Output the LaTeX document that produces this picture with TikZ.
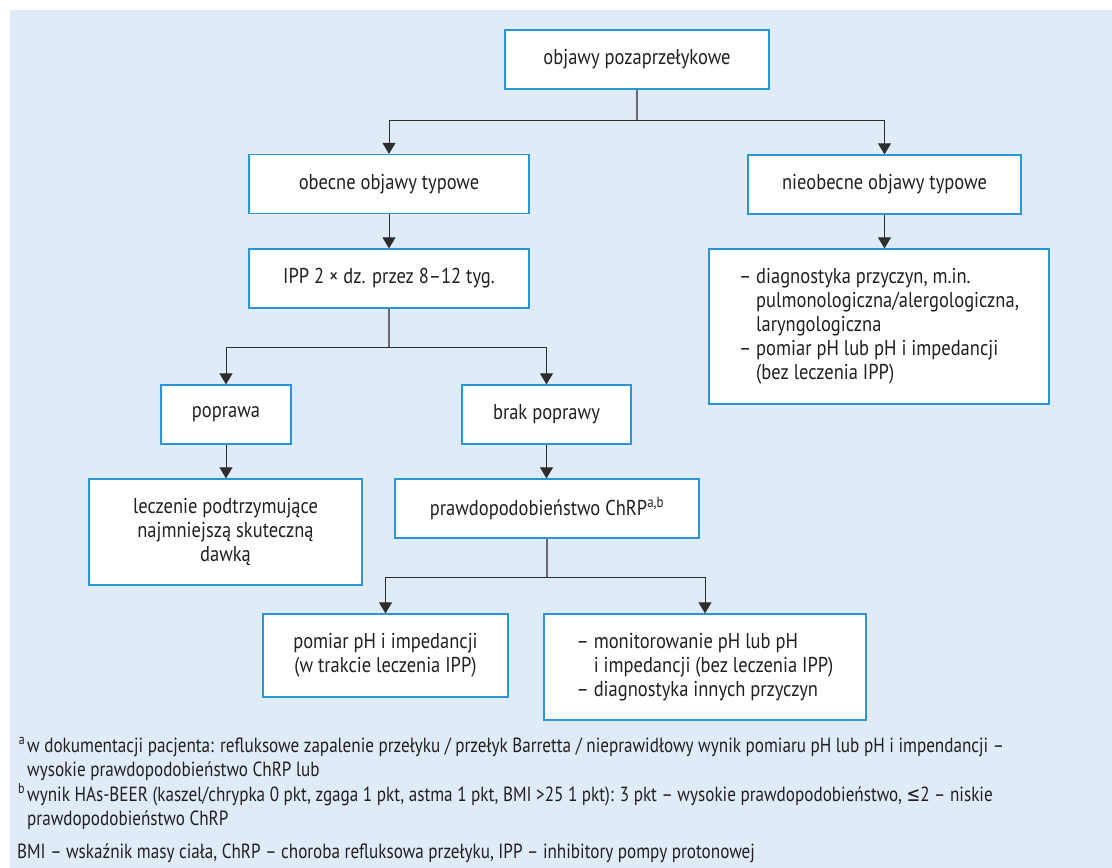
\documentclass[tikz,border=0pt]{standalone}
\usepackage{fontspec}
\setmainfont{PT Sans}[FakeStretch=0.86]
\newfontfamily\notefont{PT Sans}[FakeStretch=0.835]
\newfontfamily\symfont{DejaVu Sans}[FakeStretch=0.8]
\usetikzlibrary{arrows.meta}
\definecolor{bg}{RGB}{223,235,247}
\definecolor{boxblue}{RGB}{40,150,216}
\definecolor{txt}{RGB}{35,31,32}
\definecolor{conn}{RGB}{45,45,45}
\definecolor{stemc}{RGB}{105,105,110}
\begin{document}
\begin{tikzpicture}[x=1pt,y=-1pt,
  box/.style={draw=boxblue,fill=white,line width=1.3pt,inner sep=0pt,align=center,text=txt,font=\fontsize{21.5}{24}\selectfont},
  listbox/.style={box,align=left},
  link/.style={draw=conn,line width=1pt},
  stem/.style={draw=stemc,line width=1.4pt},
  arr/.style={link,-{Triangle[width=13pt,length=11pt]}},
  note/.style={anchor=base west,inner sep=0pt,text=txt,font=\notefont\fontsize{20.5}{24}\selectfont}]
\useasboundingbox (0,0) rectangle (1112,868);
\fill[bg] (10,10) rectangle (1112,868);
% boxes
\node[box,minimum width=264pt,minimum height=59pt] (top) at (637,59.5) {objawy pozaprzełykowe};
\node[box,minimum width=280pt,minimum height=59pt] (obecne) at (389,184) {obecne objawy typowe};
\node[box,minimum width=273pt,minimum height=59pt] (nieob) at (884.5,184.5) {nieobecne objawy typowe};
\node[box,minimum width=280pt,minimum height=59pt] (ipp) at (389,278.5) {IPP 2 × dz. przez 8–12 tyg.};
\node[listbox,minimum width=340pt,minimum height=155pt] (diag) at (879,326.5) {– diagnostyka przyczyn, m.in.\\\hphantom{– }pulmonologiczna/alergologiczna,\\\hphantom{– }laryngologiczna\\– pomiar pH lub pH i impedancji\\\hphantom{– }(bez leczenia IPP)};
\node[box,minimum width=130pt,minimum height=59pt] (poprawa) at (226,414.5) {poprawa};
\node[box,minimum width=169pt,minimum height=59pt] (brak) at (546.5,414.5) {brak poprawy};
\node[box,minimum width=273pt,minimum height=106pt] (leczenie) at (225.5,532) {leczenie podtrzymujące\\najmniejszą skuteczną\\dawką};
\node[box,minimum width=304pt,minimum height=59pt] (prawdo) at (547,508.5) {prawdopodobieństwo ChRP\textsuperscript{a,b}};
\node[box,minimum width=245pt,minimum height=83pt] (pomiar) at (385.5,655.5) {pomiar pH i impedancji\\(w trakcie leczenia IPP)};
\node[listbox,minimum width=322pt,minimum height=106pt] (monit) at (705,667) {– monitorowanie pH lub pH\\\hphantom{– }i impedancji (bez leczenia IPP)\\– diagnostyka innych przyczyn};
% junctions
\coordinate (j1) at (637,120);
\coordinate (j2) at (389,347);
\coordinate (j3) at (547,577);
% connectors
\draw[stem] (top.south) -- (j1);
\draw[arr] (j1) -| (obecne.north);
\draw[arr] (j1) -| (nieob.north);
\draw[arr] (obecne.south) -- (ipp.north);
\draw[arr] (nieob.south) -- (nieob.south |- diag.north);
\draw[stem] (ipp.south) -- (j2);
\draw[arr] (j2) -| (poprawa.north);
\draw[arr] (j2) -| (brak.north);
\draw[arr] (poprawa.south) -- (poprawa.south |- leczenie.north);
\draw[arr] (brak.south) -- (brak.south |- prawdo.north);
\draw[stem] (prawdo.south) -- (j3);
\draw[arr] (j3) -| (pomiar.north);
\draw[arr] (j3) -| (monit.north);
% notes
\node[note] (a1) at (27,752) {\llap{\textsuperscript{a}\hspace{2pt}}w dokumentacji pacjenta: refluksowe zapalenie przełyku / przełyk Barretta / nieprawidłowy wynik pomiaru pH lub pH i impendancji –};
\node[note] (a2) at (27,776.5) {wysokie prawdopodobieństwo ChRP lub};
\node[note] (b1) at (27,801) {\llap{\textsuperscript{b}\hspace{2pt}}wynik HAs-BEER (kaszel/chrypka 0 pkt, zgaga 1 pkt, astma 1 pkt, BMI >25 1 pkt): 3 pkt – wysokie prawdopodobieństwo, {\symfont ≤}2 – niskie};
\node[note] (b2) at (27,825.5) {prawdopodobieństwo ChRP};
\node[note] (bmi) at (17,858) {BMI – wskaźnik masy ciała, ChRP – choroba refluksowa przełyku, IPP – inhibitory pompy protonowej};
\end{tikzpicture}
\end{document}
